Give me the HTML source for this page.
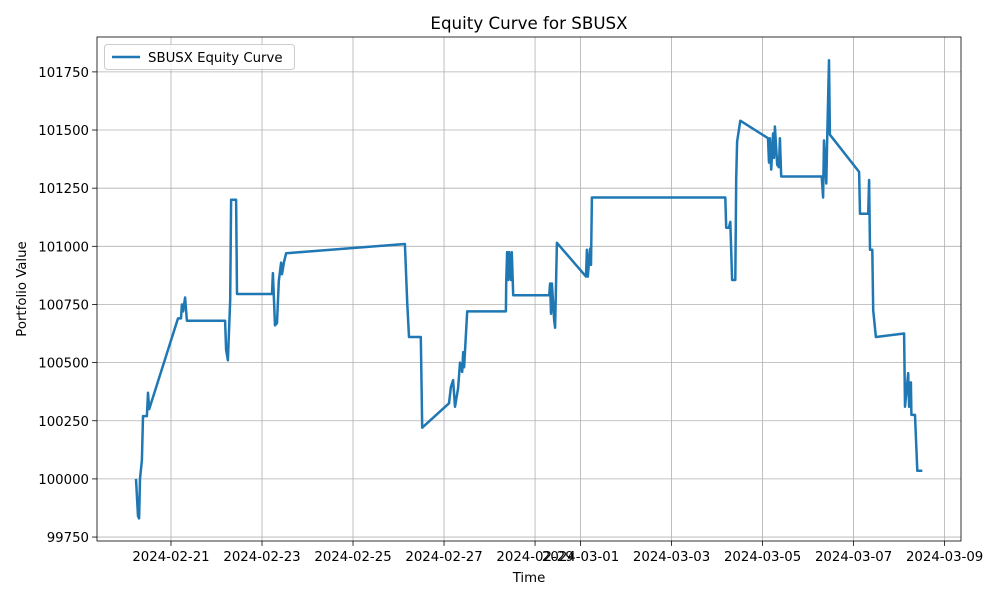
<!DOCTYPE html>
<html><head><meta charset="utf-8"><style>
body{margin:0;background:#fff;font-family:"Liberation Sans","DejaVu Sans",sans-serif}
svg text{font-family:"DejaVu Sans","Liberation Sans",sans-serif;fill:#000}
</style></head><body>
<svg id="chart" width="1000" height="600" xmlns="http://www.w3.org/2000/svg"></svg>
<script>
const days = [-0.77,-0.725,-0.70,-0.68,-0.64,-0.615,-0.53,-0.505,-0.48,0.155,0.22,0.24,0.265,0.31,0.35,1.19,1.21,1.25,1.30,1.32,1.43,1.45,2.22,2.24,2.285,2.33,2.37,2.42,2.44,2.48,2.53,5.14,5.19,5.23,5.49,5.52,6.11,6.15,6.20,6.24,6.31,6.35,6.40,6.42,6.44,6.51,7.36,7.365,7.385,7.41,7.43,7.47,7.49,7.52,8.31,8.33,8.35,8.37,8.42,8.44,8.48,9.12,9.14,9.16,9.21,9.23,9.25,12.18,12.20,12.26,12.29,12.33,12.40,12.42,12.44,12.51,13.12,13.14,13.16,13.19,13.23,13.25,13.27,13.32,13.36,13.38,13.41,14.30,14.33,14.35,14.40,14.42,14.46,14.48,15.12,15.14,15.32,15.34,15.36,15.41,15.43,15.49,16.11,16.13,16.20,16.22,16.26,16.27,16.35,16.40,16.51];
const values = [100000,99840,99830,100000,100080,100270,100270,100370,100300,100690,100690,100750,100720,100780,100680,100680,100555,100510,100770,101200,101200,100795,100795,100885,100660,100670,100850,100930,100880,100930,100970,101010,100760,100610,100610,100220,100325,100395,100425,100310,100390,100500,100460,100545,100480,100720,100720,100840,100975,100855,100975,100855,100975,100790,100790,100840,100710,100840,100680,100650,101015,100870,100985,100870,100990,100920,101210,101210,101080,101080,101105,100855,100855,101290,101450,101540,101465,101360,101465,101330,101485,101380,101515,101350,101340,101465,101300,101300,101210,101455,101270,101465,101800,101480,101320,101140,101140,101285,100985,100985,100725,100610,100625,100310,100455,100310,100415,100275,100275,100035,100035];
const xTickDays = [0,2,4,6,8,9,11,13,15,17];
const xTickLabels = ["2024-02-21","2024-02-23","2024-02-25","2024-02-27","2024-02-29","2024-03-01","2024-03-03","2024-03-05","2024-03-07","2024-03-09"];
const yTicks = [99750,100000,100250,100500,100750,101000,101250,101500,101750];

const svg=document.getElementById('chart');const NS='http://www.w3.org/2000/svg';
const L=97,R=961,T=37,B=541;
const xMin=-1.626,xMax=17.36,yMin=99733,yMax=101900;
const xs=d=>L+(d-xMin)/(xMax-xMin)*(R-L);
const ys=v=>B-(v-yMin)/(yMax-yMin)*(B-T);
function mk(t,a){const e=document.createElementNS(NS,t);for(const k in a)e.setAttribute(k,a[k]);svg.appendChild(e);return e;}
let e;
e=mk('rect',{x:L,y:T,width:R-L,height:B-T,fill:'#fff'});


xTickDays.forEach((d,i)=>{const x=xs(d);
 e=mk('line',{x1:x,x2:x,y1:T,y2:B,stroke:'#b0b0b0','stroke-width':0.8});
 
 
 mk('line',{x1:x,x2:x,y1:B,y2:B+4.9,stroke:'#000','stroke-width':0.8});
 e=mk('text',{x:x,y:B+20,'text-anchor':'middle','font-size':13.3});e.textContent=xTickLabels[i];
 
 
});
yTicks.forEach(v=>{const y=ys(v);
 e=mk('line',{x1:L,x2:R,y1:y,y2:y,stroke:'#b0b0b0','stroke-width':0.8});
 
 
 mk('line',{x1:L-4.9,x2:L,y1:y,y2:y,stroke:'#000','stroke-width':0.8});
 e=mk('text',{x:L-8,y:y+5,'text-anchor':'end','font-size':13.3});e.textContent=v;
 
 
});
const n=Math.min(days.length,values.length);
const pts=days.slice(0,n).map((d,i)=>xs(d).toFixed(1)+','+ys(values[i]).toFixed(1)).join(' ');
e=mk('polyline',{points:pts,fill:'none',stroke:'#1f77b4','stroke-width':2.5,'stroke-linejoin':'round'});


e=mk('rect',{x:L,y:T,width:R-L,height:B-T,fill:'none',stroke:'#000','stroke-width':0.8});


e=mk('text',{x:(L+R)/2,y:29,'text-anchor':'middle','font-size':16.7});e.textContent='Equity Curve for SBUSX';


e=mk('text',{x:(L+R)/2,y:582,'text-anchor':'middle','font-size':13.3});e.textContent='Time';


e=mk('text',{x:0,y:0,'text-anchor':'middle','font-size':13.3,transform:'translate(26,289) rotate(-90)'});e.textContent='Portfolio Value';


e=mk('rect',{x:104.5,y:44.5,width:190,height:25,rx:3,fill:'#fff','fill-opacity':0.8,stroke:'#ccc','stroke-width':1});


e=mk('line',{x1:112,x2:140,y1:57,y2:57,stroke:'#1f77b4','stroke-width':2.5});


e=mk('text',{x:148,y:62,'font-size':13.3});e.textContent='SBUSX Equity Curve';


</script>
</body></html>
